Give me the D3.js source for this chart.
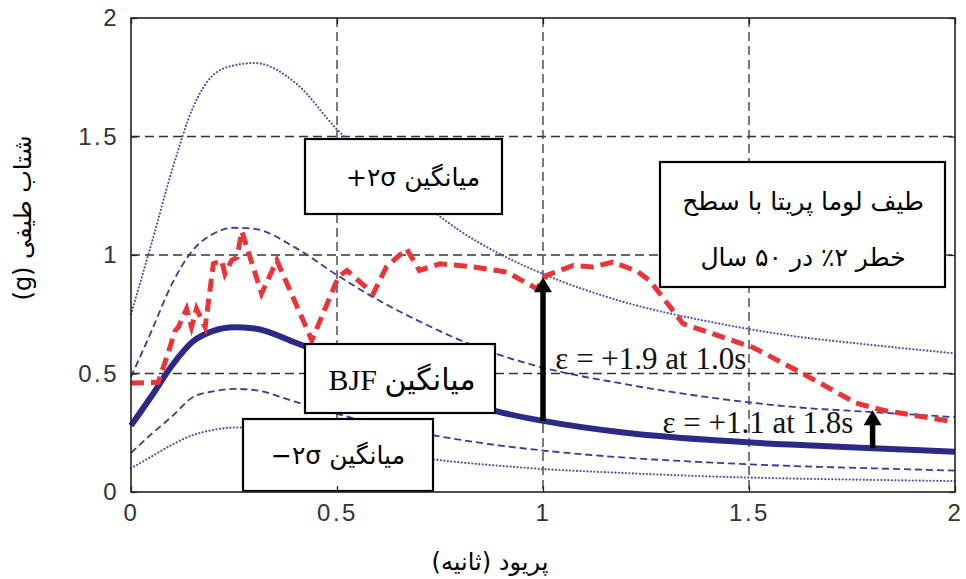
<!DOCTYPE html>
<html>
<head>
<meta charset="utf-8">
<script src="https://cdn.jsdelivr.net/npm/d3@7"></script>
<style>
  body { margin: 0; background: #fff; }
  svg { display: block; }
</style>
</head>
<body>
<svg width="966" height="579"></svg>
<script>
var width = 966;
var height = 579;
var margin = {left: 131, right: 11, top: 18, bottom: 87};

// period values (s) shared by the BJF curves
var periods = [0, 0.05, 0.1, 0.15, 0.2, 0.25, 0.3, 0.4, 0.5, 0.6, 0.7, 0.8, 0.9, 1.0, 1.2, 1.4, 1.6, 1.8, 2.0];
var bjfMean   = [0.28, 0.405, 0.535, 0.635, 0.68, 0.695, 0.69, 0.63, 0.56, 0.49, 0.43, 0.38, 0.335, 0.30, 0.25, 0.22, 0.20, 0.185, 0.17];
var bjfPlus1  = [0.485, 0.68, 0.88, 1.02, 1.09, 1.115, 1.11, 1.03, 0.915, 0.81, 0.72, 0.64, 0.575, 0.525, 0.455, 0.40, 0.36, 0.337, 0.316];
var bjfPlus2  = [0.75, 1.05, 1.36, 1.62, 1.76, 1.80, 1.81, 1.725, 1.53, 1.37, 1.23, 1.10, 1.00, 0.92, 0.80, 0.72, 0.66, 0.62, 0.585];
var bjfMinus1 = [0.165, 0.245, 0.32, 0.40, 0.425, 0.435, 0.43, 0.38, 0.33, 0.285, 0.25, 0.22, 0.195, 0.175, 0.145, 0.125, 0.11, 0.10, 0.09];
var bjfMinus2 = [0.10, 0.15, 0.20, 0.24, 0.262, 0.272, 0.27, 0.245, 0.205, 0.172, 0.145, 0.125, 0.11, 0.097, 0.08, 0.066, 0.057, 0.051, 0.046];

// Loma Prieta record spectrum
var lomaPeriods = [0, 0.066, 0.09, 0.107, 0.115, 0.135, 0.147, 0.159, 0.18, 0.2, 0.22, 0.228, 0.244, 0.257, 0.269, 0.317, 0.354, 0.439, 0.503, 0.524, 0.588, 0.62, 0.669, 0.70, 0.75, 0.83, 0.912, 0.985, 1.009, 1.073, 1.12, 1.17, 1.23, 1.26, 1.34, 1.51, 1.63, 1.76, 1.825, 2.0];
var lomaSa = [0.46, 0.463, 0.585, 0.68, 0.696, 0.773, 0.696, 0.773, 0.696, 0.963, 0.977, 0.92, 0.977, 0.99, 1.10, 0.837, 0.977, 0.64, 0.906, 0.935, 0.837, 0.95, 1.026, 0.935, 0.963, 0.95, 0.928, 0.858, 0.914, 0.956, 0.949, 0.97, 0.93, 0.89, 0.71, 0.61, 0.50, 0.375, 0.345, 0.295];

// epsilon arrows
var arrowT    = [1.0, 1.8];
var arrowFrom = [0.30, 0.185];
var arrowTo   = [0.906, 0.345];
var arrowText = ["\u03b5 = +1.9 at 1.0s", "\u03b5 = +1.1 at 1.8s"];

var xTicks = [0, 0.5, 1, 1.5, 2];
var yTicks = [0, 0.5, 1, 1.5, 2];
var gridValues = [0.5, 1, 1.5];

var svg = d3.select('svg');

var xScale = d3.scaleLinear().domain([0, 2]).range([margin.left, width - margin.right]);
var yScale = d3.scaleLinear().domain([0, 2]).range([height - margin.bottom, margin.top]);

var x0 = xScale(0), x1 = xScale(2), y0 = yScale(0), y1 = yScale(2);

// grid
svg.append('g').selectAll('line.vg')
  .data(gridValues).enter().append('line')
  .attr('x1', function(d) { return xScale(d); })
  .attr('x2', function(d) { return xScale(d); })
  .attr('y1', y1).attr('y2', y0)
  .attr('stroke', '#333').attr('stroke-width', 1.3).attr('stroke-dasharray', '9,5');
svg.append('g').selectAll('line.hg')
  .data(gridValues).enter().append('line')
  .attr('y1', function(d) { return yScale(d); })
  .attr('y2', function(d) { return yScale(d); })
  .attr('x1', x0).attr('x2', x1)
  .attr('stroke', '#333').attr('stroke-width', 1.3).attr('stroke-dasharray', '9,5');

function series(vals) {
  return periods.map(function(t, i) { return [t, vals[i]]; });
}

var smooth = d3.line()
  .x(function(d) { return xScale(d[0]); })
  .y(function(d) { return yScale(d[1]); })
  .curve(d3.curveMonotoneX);

var blue = '#363a9a';

svg.append('path').datum(series(bjfPlus2))
  .attr('d', smooth).attr('fill', 'none')
  .attr('stroke', '#4a4fa8').attr('stroke-width', 2.1)
  .attr('stroke-linecap', 'round').attr('stroke-dasharray', '0.1,3.4');
svg.append('path').datum(series(bjfMinus2))
  .attr('d', smooth).attr('fill', 'none')
  .attr('stroke', '#4a4fa8').attr('stroke-width', 2.1)
  .attr('stroke-linecap', 'round').attr('stroke-dasharray', '0.1,3.4');
svg.append('path').datum(series(bjfPlus1))
  .attr('d', smooth).attr('fill', 'none')
  .attr('stroke', blue).attr('stroke-width', 1.8).attr('stroke-dasharray', '7,4');
svg.append('path').datum(series(bjfMinus1))
  .attr('d', smooth).attr('fill', 'none')
  .attr('stroke', blue).attr('stroke-width', 1.8).attr('stroke-dasharray', '7,4');
svg.append('path').datum(series(bjfMean))
  .attr('d', smooth).attr('fill', 'none')
  .attr('stroke', '#2c2a86').attr('stroke-width', 6);

var lomaLine = d3.line()
  .x(function(d) { return xScale(d[0]); })
  .y(function(d) { return yScale(d[1]); });

svg.append('path').datum(lomaPeriods.map(function(t, i) { return [t, lomaSa[i]]; }))
  .attr('d', lomaLine).attr('fill', 'none')
  .attr('stroke', '#e8353a').attr('stroke-width', 5)
  .attr('stroke-dasharray', '13,7');

// label boxes
var boxes = [
  {x: 305, y: 139, w: 197, h: 75},
  {x: 305, y: 344, w: 190, h: 69},
  {x: 243, y: 419, w: 190, h: 72},
  {x: 660, y: 162, w: 285, h: 125}
];
svg.append('g').selectAll('rect')
  .data(boxes).enter().append('rect')
  .attr('x', function(d) { return d.x; })
  .attr('y', function(d) { return d.y; })
  .attr('width', function(d) { return d.w; })
  .attr('height', function(d) { return d.h; })
  .attr('fill', '#fff').attr('stroke', '#000').attr('stroke-width', 2.2);

var persian = '"DejaVu Sans", sans-serif';

svg.append('text').attr('x', 413).attr('y', 186)
  .attr('text-anchor', 'middle').attr('direction', 'ltr')
  .style('font-family', persian).style('font-size', '25px')
  .text('+\u06f2\u03c3 \u0645\u06cc\u0627\u0646\u06af\u06cc\u0646');

svg.append('text').attr('x', 402).attr('y', 390)
  .attr('text-anchor', 'middle').attr('direction', 'ltr')
  .style('font-family', '"Liberation Serif", "DejaVu Sans", serif').style('font-size', '30px')
  .text('BJF \u0645\u06cc\u0627\u0646\u06af\u06cc\u0646');

svg.append('text').attr('x', 338).attr('y', 464)
  .attr('text-anchor', 'middle').attr('direction', 'ltr')
  .style('font-family', persian).style('font-size', '25px')
  .text('\u2212\u06f2\u03c3 \u0645\u06cc\u0627\u0646\u06af\u06cc\u0646');

svg.append('text').attr('x', 803).attr('y', 210)
  .attr('text-anchor', 'middle').attr('direction', 'rtl')
  .style('font-family', persian).style('font-size', '25px')
  .text('طیف لوما پریتا با سطح');
svg.append('text').attr('x', 803).attr('y', 266)
  .attr('text-anchor', 'middle').attr('direction', 'rtl')
  .style('font-family', persian).style('font-size', '25px')
  .text('خطر ۲٪ در ۵۰ سال');

// epsilon arrows
arrowT.forEach(function(t, i) {
  var ax = xScale(t);
  var yb = yScale(arrowFrom[i]);
  var yt = yScale(arrowTo[i]);
  var headH = 15;
  var headW = 9;
  svg.append('line')
    .attr('x1', ax).attr('x2', ax)
    .attr('y1', yb).attr('y2', yt + headH - 1)
    .attr('stroke', '#000').attr('stroke-width', 5.5);
  svg.append('path')
    .attr('d', 'M' + ax + ',' + yt + 'L' + (ax + headW) + ',' + (yt + headH) + 'L' + (ax - headW) + ',' + (yt + headH) + 'Z')
    .attr('fill', '#000');
});

svg.append('text').attr('x', xScale(1.03)).attr('y', yScale(0.52))
  .style('font-family', '"Liberation Serif", serif').style('font-size', '31px')
  .attr('fill', '#111')
  .text(arrowText[0]);
svg.append('text').attr('x', xScale(1.29)).attr('y', yScale(0.25))
  .style('font-family', '"Liberation Serif", serif').style('font-size', '31px')
  .attr('fill', '#111')
  .text(arrowText[1]);

// axes: inward ticks on all four sides
var axisB = d3.axisBottom(xScale).tickValues(xTicks).tickSize(-6).tickPadding(12).tickFormat(d3.format('~g'));
var axisT = d3.axisTop(xScale).tickValues(xTicks).tickSize(-6).tickFormat('');
var axisL = d3.axisLeft(yScale).tickValues(yTicks).tickSize(-6).tickPadding(12).tickFormat(d3.format('~g'));
var axisR = d3.axisRight(yScale).tickValues(yTicks).tickSize(-6).tickFormat('');

function styleAxis(g) {
  g.select('.domain').remove();
  g.selectAll('.tick line').attr('stroke', '#222').attr('stroke-width', 1.3);
  g.selectAll('.tick text').attr('fill', '#333')
    .style('font-family', '"Liberation Sans", Arial, sans-serif').style('font-size', '24px')
    .style('letter-spacing', '2.5px');
}

svg.append('g').attr('transform', 'translate(0,' + y0 + ')').call(axisB).call(styleAxis);
svg.append('g').attr('transform', 'translate(0,' + y1 + ')').call(axisT).call(styleAxis);
svg.append('g').attr('transform', 'translate(' + x0 + ',0)').call(axisL).call(styleAxis);
svg.append('g').attr('transform', 'translate(' + x1 + ',0)').call(axisR).call(styleAxis);

svg.append('rect')
  .attr('x', x0).attr('y', y1)
  .attr('width', x1 - x0).attr('height', y0 - y1)
  .attr('fill', 'none').attr('stroke', '#222').attr('stroke-width', 1.6);

// axis titles
svg.append('text')
  .attr('transform', 'translate(31,218) rotate(-90)')
  .attr('text-anchor', 'middle').attr('direction', 'rtl')
  .style('font-family', persian).style('font-size', '24px')
  .text('شتاب طیفی (g)');

svg.append('text')
  .attr('x', 490).attr('y', 570)
  .attr('text-anchor', 'middle').attr('direction', 'rtl')
  .style('font-family', persian).style('font-size', '24px')
  .text('پریود (ثانیه)');
</script>
</body>
</html>
